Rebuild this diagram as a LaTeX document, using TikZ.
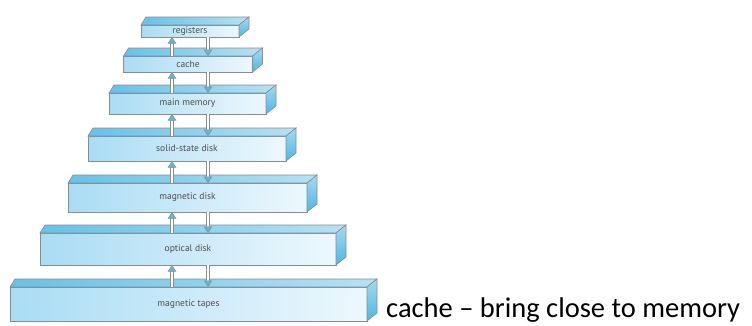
\documentclass[tikz,border=0pt]{standalone}
\usepackage{fontspec}
\setmainfont{Carlito}
\newfontfamily\tierfont{PT Sans}
\usetikzlibrary{arrows.meta, calc}
\definecolor{edgegray}{HTML}{8C8C8C}
\definecolor{labelgray}{HTML}{4E4E4E}
\definecolor{frontleft}{HTML}{A9DCF4}
\definecolor{frontright}{HTML}{EDF8FD}
\definecolor{topleft}{HTML}{62C3EC}
\definecolor{topright}{HTML}{B3E2F7}
\definecolor{sidetop}{HTML}{A3DAF3}
\definecolor{sidebottom}{HTML}{4DB6E5}
\definecolor{tipblue}{HTML}{52BDEA}

\tikzset{
  front/.style={draw=edgegray, line width=0.6pt, left color=frontleft, right color=frontright,
    outer sep=0pt, inner sep=0pt, font=\tierfont\fontsize{9.5}{11}\selectfont, text=labelgray},
  topface/.style={draw=edgegray, line width=0.6pt, left color=topleft, right color=topright},
  sideface/.style={draw=edgegray, line width=0.6pt, top color=sidetop, bottom color=sidebottom},
  shaft/.style={draw=edgegray, line width=0.8pt, double=white, double distance=2.2pt},
  tipline/.style={draw=edgegray, line width=0.6pt, -{Triangle[length=6.5pt, width=8.5pt, fill=tipblue]}}
}

\begin{document}
\begin{tikzpicture}[x=1pt, y=-1pt]
  \useasboundingbox (0,0) rectangle (752,325);

  % storage levels, top to bottom
  \foreach \nm/\cx/\cy/\w/\h/\txt in {reg/190/31/98/12/registers,
      cache/188/64/129/16/cache,
      mainmem/187.5/103.5/157/21/main memory,
      ssd/187/148.5/198/25/solid-state disk,
      magdisk/187.5/197.5/239/29/magnetic disk,
      optical/188/249/296/32/optical disk,
      tapes/188.5/304/357/34/magnetic tapes} {
    \node[front, minimum width=\w pt, minimum height=\h pt] (\nm) at (\cx,\cy) {\txt};
    \path[topface] (\nm.north west) -- ++(5,-8) -- ($(\nm.north east)+(10,-8)$) -- (\nm.north east) -- cycle;
    \path[sideface] (\nm.north east) -- ++(10,-8) -- ($(\nm.south east)+(10,-8)$) -- (\nm.south east) -- cycle;
  }

  \coordinate (upx) at (172,0);
  \coordinate (dnx) at (208,0);

  % transfers between neighbouring levels
  \foreach \lo/\hi in {cache/reg, mainmem/cache, ssd/mainmem, magdisk/ssd, optical/magdisk, tapes/optical} {
    \draw[shaft, shorten >=6pt] (\lo.north -| upx) -- (\hi.south -| upx);
    \draw[tipline] ($(\hi.south -| upx)+(0,6.5)$) -- (\hi.south -| upx);
    \draw[shaft, shorten >=6pt] (\hi.south -| dnx) -- (\lo.north -| dnx);
    \draw[tipline] ($(\lo.north -| dnx)+(0,-6.5)$) -- (\lo.north -| dnx);
  }

  \node[anchor=base west, inner sep=0pt, font=\fontsize{28.5}{34}\selectfont] (note) at (386,317) {cache – bring close to memory};
\end{tikzpicture}
\end{document}
